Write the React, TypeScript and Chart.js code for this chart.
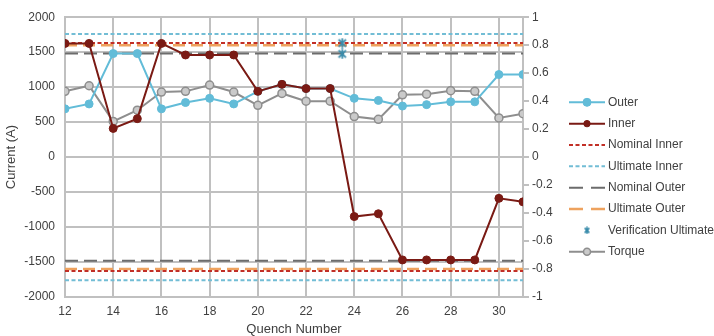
import React, { useEffect, useRef } from 'react';
import { Chart, registerables } from 'chart.js';

Chart.register(...registerables);

// Quench test history: coil currents (left axis) and torque (right axis)
const quenchNumbers = [12, 13, 14, 15, 16, 17, 18, 19, 20, 21, 22, 23, 24, 25, 26, 27, 28, 29, 30, 31];
const outerCurrent = [690, 760, 1480, 1480, 690, 780, 840, 760, 940, 1040, 980, 980, 840, 810, 730, 750, 790, 790, 1180, 1180];
const innerCurrent = [1625, 1625, 410, 550, 1625, 1460, 1460, 1460, 940, 1040, 980, 980, -850, -810, -1470, -1470, -1470, -1470, -590, -640];
const torqueValues = [0.47, 0.51, 0.255, 0.335, 0.465, 0.47, 0.515, 0.465, 0.37, 0.455, 0.4, 0.4, 0.29, 0.27, 0.445, 0.45, 0.475, 0.47, 0.28, 0.31];

// Design limits, drawn at +/- current across the whole test range
const limitNames = ['Nominal Inner', 'Ultimate Inner', 'Nominal Outer', 'Ultimate Outer'];
const limitCurrents = [1630, 1760, 1480, 1600];
const limitColors = ['#c22f26', '#72bdd5', '#6c6c6c', '#eea25e'];
const limitWidths = [2, 2, 2, 2.5];
const limitDashes = [[4, 2.5], [4, 2.5], [13, 6], [12, 6]];
const limitOrder = [4, 7, 6, 5];

const verificationQuench = [23.5, 23.5];
const verificationCurrent = [1630, 1475];

const rangeStart = 12;
const rangeEnd = 31;

const TEXT = '#404040';
const GRID = '#c0c0c0';
const FONT = "'Liberation Sans', Arial, Helvetica, sans-serif";

function starMarker(size: number, color: string, lw: number): HTMLCanvasElement {
  const c = document.createElement('canvas');
  c.width = size;
  c.height = size;
  const g = c.getContext('2d')!;
  g.strokeStyle = color;
  g.lineWidth = lw;
  const m = lw;
  g.beginPath();
  g.moveTo(m, m);
  g.lineTo(size - m, size - m);
  g.moveTo(size - m, m);
  g.lineTo(m, size - m);
  g.moveTo(size / 2, 0.5);
  g.lineTo(size / 2, size - 0.5);
  g.stroke();
  return c;
}

const sideLegend = {
  id: 'sideLegend',
  afterDraw(chart: any) {
    const ctx: CanvasRenderingContext2D = chart.ctx;
    const right = chart.chartArea.right;
    const x0 = right + 46;
    const x1 = right + 82;
    const xm = (x0 + x1) / 2;
    const top = 102.3;
    const step = 21.35;
    chart.data.datasets.forEach((ds: any, i: number) => {
      const y = top + i * step;
      ctx.save();
      if (ds.showLine !== false) {
        ctx.strokeStyle = ds.borderColor;
        ctx.lineWidth = ds.borderWidth;
        ctx.setLineDash(ds.legendDash || ds.borderDash || []);
        ctx.beginPath();
        ctx.moveTo(x0, y);
        ctx.lineTo(x1, y);
        ctx.stroke();
        ctx.setLineDash([]);
      }
      if (ds.legendMarker) {
        const img = ds.legendMarker as HTMLCanvasElement;
        ctx.drawImage(img, xm - img.width / 2, y - img.height / 2);
      } else if (ds.pointRadius > 0) {
        ctx.beginPath();
        ctx.arc(xm, y, ds.legendRadius ?? ds.pointRadius, 0, Math.PI * 2);
        ctx.fillStyle = ds.pointBackgroundColor;
        ctx.fill();
        ctx.lineWidth = ds.pointBorderWidth ?? 1;
        ctx.strokeStyle = ds.pointBorderColor;
        ctx.stroke();
      }
      ctx.fillStyle = TEXT;
      ctx.font = `12px ${FONT}`;
      ctx.textAlign = 'left';
      ctx.textBaseline = 'middle';
      ctx.fillText(ds.label, x1 + 3, y);
      ctx.restore();
    });
  },
};

function series(ys: number[]) {
  return quenchNumbers.map((x, i) => ({ x, y: ys[i] }));
}

export default function App() {
  const ref = useRef<HTMLCanvasElement>(null);

  useEffect(() => {
    if (!ref.current) return;
    const star = starMarker(11, '#3a8cab', 1.8);
    const legendStar = starMarker(8, '#3a8cab', 1.6);

    const limitSets = limitNames.map((name, i) => ({
      label: name,
      data: [
        { x: rangeStart, y: limitCurrents[i] },
        { x: rangeEnd, y: limitCurrents[i] },
        { x: rangeEnd, y: null },
        { x: rangeStart, y: -limitCurrents[i] },
        { x: rangeEnd, y: -limitCurrents[i] },
      ],
      borderColor: limitColors[i],
      borderWidth: limitWidths[i],
      borderDash: limitDashes[i],
      legendDash: i >= 2 ? [14, 8] : [4, 2.5],
      pointRadius: 0,
      spanGaps: false,
      yAxisID: 'y',
      order: limitOrder[i],
    }));

    const chart = new Chart(ref.current, {
      type: 'line',
      data: {
        datasets: [
          {
            label: 'Outer',
            data: series(outerCurrent),
            borderColor: '#62bcd8',
            backgroundColor: '#62bcd8',
            pointBackgroundColor: '#62bcd8',
            pointBorderColor: '#62bcd8',
            borderWidth: 2,
            pointRadius: 4,
            pointBorderWidth: 1,
            yAxisID: 'y',
            order: 2,
          },
          {
            label: 'Inner',
            data: series(innerCurrent),
            borderColor: '#7a1a14',
            backgroundColor: '#7a1a14',
            pointBackgroundColor: '#7a1a14',
            pointBorderColor: '#7a1a14',
            borderWidth: 2,
            pointRadius: 4,
            legendRadius: 3.2,
            pointBorderWidth: 1,
            yAxisID: 'y',
            order: 1,
          },
          ...limitSets,
          {
            label: 'Verification Ultimate',
            data: verificationQuench.map((x, i) => ({ x, y: verificationCurrent[i] })),
            showLine: false,
            borderColor: '#3a8cab',
            pointStyle: star,
            legendMarker: legendStar,
            pointRadius: 6,
            yAxisID: 'y',
            order: 0,
          },
          {
            label: 'Torque',
            data: series(torqueValues),
            borderColor: '#8e8e8e',
            backgroundColor: '#cacaca',
            pointBackgroundColor: '#cacaca',
            pointBorderColor: '#8e8e8e',
            borderWidth: 2,
            pointRadius: 4,
            legendRadius: 3.5,
            pointBorderWidth: 1.5,
            yAxisID: 'y1',
            order: 3,
          },
        ] as any,
      },
      options: {
        animation: false,
        responsive: false,
        events: [],
        layout: { padding: { top: 15, right: 151, bottom: 0, left: 0 } },
        plugins: { legend: { display: false }, tooltip: { enabled: false } },
        scales: {
          x: {
            type: 'linear',
            min: rangeStart,
            max: rangeEnd,
            afterFit: (s: any) => { s.height = 39; },
            ticks: {
              stepSize: 2,
              includeBounds: false,
              padding: 7,
              color: TEXT,
              font: { family: FONT, size: 12 },
              callback: (v: any) => String(v),
            },
            grid: { color: GRID, lineWidth: 2, drawTicks: false },
            border: { color: GRID, width: 2 },
            title: {
              display: true,
              text: 'Quench Number',
              color: TEXT,
              font: { family: FONT, size: 13, lineHeight: 1 },
              padding: { top: 0, bottom: 0 },
            },
          },
          y: {
            position: 'left',
            min: -2000,
            max: 2000,
            afterFit: (s: any) => { s.width = 65; },
            ticks: {
              stepSize: 500,
              padding: 10,
              color: TEXT,
              font: { family: FONT, size: 12 },
              callback: (v: any) => String(v),
            },
            grid: { color: GRID, lineWidth: 2, drawTicks: false },
            border: { color: GRID, width: 2 },
            title: {
              display: true,
              text: 'Current (A)',
              color: TEXT,
              font: { family: FONT, size: 13, lineHeight: 1.2 },
              padding: { top: 4, bottom: 0 },
            },
          },
          y1: {
            position: 'right',
            min: -1,
            max: 1,
            afterFit: (s: any) => { s.width = 40; },
            ticks: {
              stepSize: 0.2,
              padding: 3,
              color: TEXT,
              font: { family: FONT, size: 12 },
              callback: (v: any) => String(Math.round(Number(v) * 10) / 10),
            },
            grid: { color: GRID, lineWidth: 2, drawOnChartArea: false, drawTicks: true, tickLength: 6 },
            border: { color: GRID, width: 2 },
          },
        },
      } as any,
      plugins: [sideLegend],
    });
    return () => chart.destroy();
  }, []);

  return (
    <div style={{ position: 'absolute', left: 0, top: 0, width: 714, height: 336, background: '#ffffff' }}>
      <canvas ref={ref} width={714} height={336} style={{ display: 'block' }} />
    </div>
  );
}
